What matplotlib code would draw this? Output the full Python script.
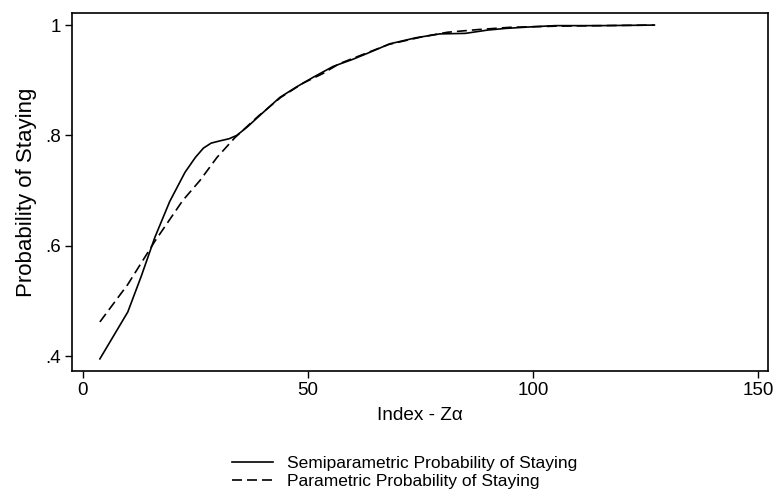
import matplotlib
matplotlib.use('Agg')
import matplotlib.pyplot as plt

plt.rcParams['font.family'] = ['Liberation Sans', 'DejaVu Sans']

# semiparametric (solid)
semi_x = [3.8, 10, 13, 16, 19.3, 22.7, 25, 26.8, 28.5, 30.4, 32.5, 34.2, 36.5, 39.3, 43.8,
          47.5, 51.1, 55.6, 60, 63, 68.2, 74, 79.3, 85, 90, 94, 100, 105, 115, 127]
semi_y = [0.395, 0.48, 0.545, 0.615, 0.68, 0.733, 0.760, 0.777, 0.786, 0.790, 0.794, 0.800,
          0.815, 0.836, 0.869, 0.888, 0.905, 0.925, 0.938, 0.948, 0.966, 0.977, 0.984,
          0.985, 0.991, 0.994, 0.997, 0.999, 0.999, 1.0]

# parametric (dashed)
par_x = [3.8, 10, 16, 22.2, 26, 29.8, 33.8, 39, 44, 49, 53.3, 57, 62, 68, 75, 81, 88, 95,
         105, 115, 127]
par_y = [0.462, 0.53, 0.608, 0.682, 0.718, 0.76, 0.796, 0.835, 0.869, 0.895, 0.912, 0.93,
         0.946, 0.965, 0.978, 0.987, 0.992, 0.996, 0.998, 0.999, 1.0]

xticks = [0, 50, 100, 150]
yticks = [0.4, 0.6, 0.8, 1.0]
ylabels = ['.4', '.6', '.8', '1']

fig = plt.figure(figsize=(7.74, 4.98), dpi=100)
ax = fig.add_axes([0.093, 0.255, 0.899, 0.719])

ax.plot(semi_x, semi_y, color='black', lw=1.2, label='Semiparametric Probability of Staying')
ax.plot(par_x, par_y, color='black', lw=1.2, dashes=(6, 3),
        label='Parametric Probability of Staying')

ax.set_xlim(-2.4, 152.2)
ax.set_ylim(0.373, 1.022)
ax.set_xticks(xticks)
ax.set_yticks(yticks)
ax.set_yticklabels(ylabels)
ax.tick_params(direction='out', length=5, width=1, labelsize=13.5, pad=3)
for s in ax.spines.values():
    s.set_linewidth(1.2)

ax.set_xlabel('Index - Z\u03b1', fontsize=13.7, labelpad=6)
ax.set_ylabel('Probability of Staying', fontsize=16, labelpad=6)

fig.legend(loc='center', bbox_to_anchor=(0.523, 0.051), ncol=1, frameon=False,
           fontsize=12.5, handlelength=2.36, labelspacing=0.2, handletextpad=0.8)

fig.savefig('out.png', dpi=100)
